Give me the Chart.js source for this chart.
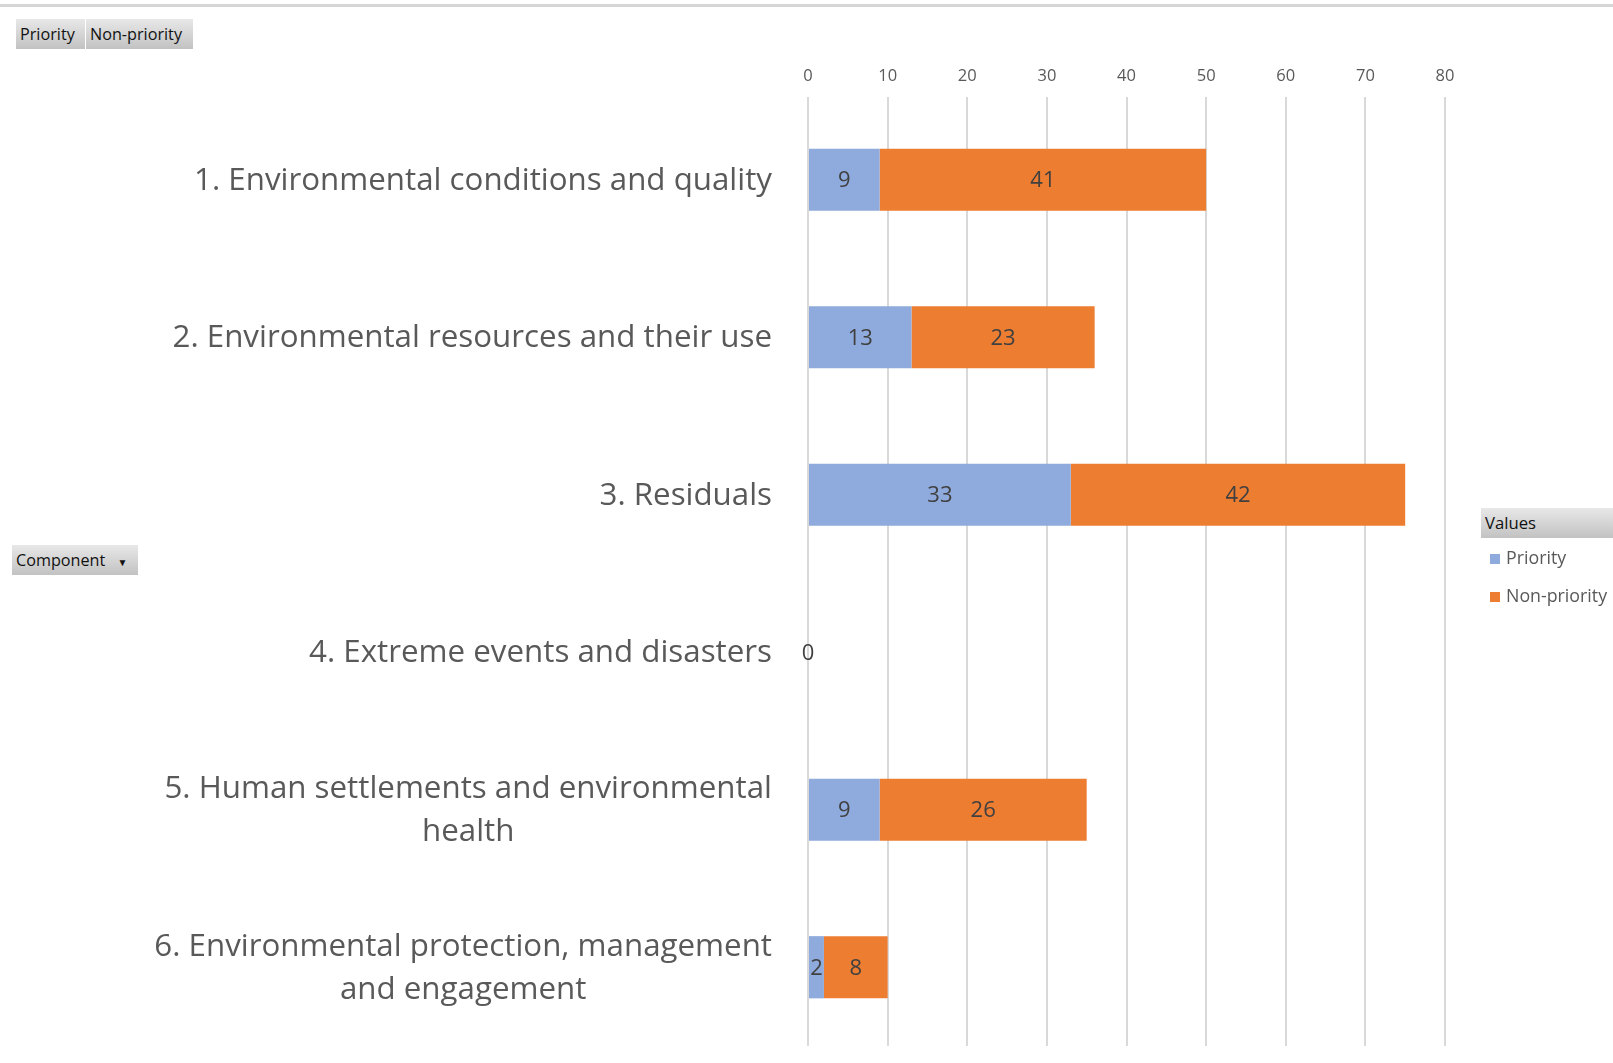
<!DOCTYPE html>
<html><head><meta charset="utf-8">
<script src="https://cdn.jsdelivr.net/npm/chart.js@4/dist/chart.umd.min.js"></script>
<style>
body{margin:0;background:#fff;font-family:"Open Sans",sans-serif;}
#wrap{position:relative;width:1613px;height:1063px;overflow:hidden;background:#fff}
canvas{position:absolute;left:0;top:0}
.topline{position:absolute;left:0;top:4px;width:1613px;height:3px;background:#d6d6d6}
.btn{position:absolute;height:30px;line-height:30px;font-size:16.2px;color:#111;background:linear-gradient(#e8e8e8,#c2c2c2);box-sizing:border-box;padding:0 4px;white-space:nowrap}
.leg{position:absolute;font-size:17.8px;color:#595959;white-space:nowrap;line-height:22px}
.sq{display:inline-block;width:10px;height:10px;margin-right:6px;vertical-align:0px}
</style></head>
<body>
<div id="wrap">
<canvas id="c" width="1613" height="1063"></canvas>
<div class="topline"></div>
<div class="btn" style="left:16px;top:19px;width:69px">Priority</div>
<div class="btn" style="left:86px;top:19px;width:107px">Non-priority</div>
<div class="btn" style="left:12px;top:545px;width:126px">Component <span style="font-size:10px;margin-left:8px">&#9660;</span></div>
<div class="btn" style="left:1481px;top:508px;width:140px;font-size:16.7px">Values</div>
<div id="legend"></div>
</div>
<script>
const categories = [
  ["1. Environmental conditions and quality"],
  ["2. Environmental resources and their use"],
  ["3. Residuals"],
  ["4. Extreme events and disasters"],
  ["5. Human settlements and environmental", "health"],
  ["6. Environmental protection, management", "and engagement"]
];
const seriesNames = ["Priority", "Non-priority"];
const priorityValues = [9, 13, 33, 0, 9, 2];
const nonPriorityValues = [41, 23, 42, null, 26, 8];
const xTicks = [0, 10, 20, 30, 40, 50, 60, 70, 80];
const seriesColors = ["#8FAADC", "#ED7D31"];

// legend (HTML)
const legendEl = document.getElementById('legend');
seriesNames.forEach((n, i) => {
  const d = document.createElement('div');
  d.className = 'leg';
  d.style.left = '1490px';
  d.style.top = (546 + i * 38) + 'px';
  d.innerHTML = '<span class="sq" style="background:' + seriesColors[i] + '"></span>' + n;
  legendEl.appendChild(d);
});

const FONT = "'Open Sans', sans-serif";

const labelPlugin = {
  id: 'catLabels',
  afterDraw(chart) {
    const ctx = chart.ctx;
    const y = chart.scales.y;
    const rightEdge = 772;
    const lh = 43;
    ctx.save();
    ctx.font = "31.3px " + FONT;
    ctx.fillStyle = "#595959";
    ctx.textBaseline = "middle";
    categories.forEach((lines, i) => {
      const cy = y.getPixelForValue(i) + 1;
      const widest = Math.max(...lines.map(l => ctx.measureText(l).width));
      const cx = rightEdge - widest / 2;
      ctx.textAlign = "center";
      lines.forEach((l, k) => {
        ctx.fillText(l, cx, cy + (k - (lines.length - 1) / 2) * lh);
      });
    });
    ctx.restore();
  }
};

const valuePlugin = {
  id: 'valueLabels',
  afterDatasetsDraw(chart) {
    const ctx = chart.ctx;
    ctx.save();
    ctx.font = "22px " + FONT;
    ctx.fillStyle = "#404040";
    ctx.textAlign = "center";
    ctx.textBaseline = "middle";
    chart.data.datasets.forEach((ds, di) => {
      const meta = chart.getDatasetMeta(di);
      meta.data.forEach((el, i) => {
        const v = ds.data[i];
        if (v === null || v === undefined) return;
        ctx.fillText(String(v), (el.x + el.base) / 2, el.y + 1);
      });
    });
    ctx.restore();
  }
};

new Chart(document.getElementById('c'), {
  type: 'bar',
  data: {
    labels: categories,
    datasets: [
      { label: seriesNames[0], data: priorityValues, backgroundColor: seriesColors[0], barPercentage: 0.79, categoryPercentage: 0.5 },
      { label: seriesNames[1], data: nonPriorityValues, backgroundColor: seriesColors[1], barPercentage: 0.79, categoryPercentage: 0.5 }
    ]
  },
  options: {
    indexAxis: 'y',
    responsive: false,
    animation: false,
    devicePixelRatio: 1,
    layout: { padding: { left: 0, right: 168, top: 0, bottom: 17 } },
    plugins: { legend: { display: false }, tooltip: { enabled: false } },
    scales: {
      x: {
        position: 'top',
        stacked: true,
        min: 0, max: 80,
        afterBuildTicks(scale) { scale.ticks = xTicks.map(v => ({ value: v })); },
        afterFit(scale) { scale.height = 101; },
        ticks: { color: '#595959', font: { family: FONT, size: 16.5 }, padding: 11 },
        grid: { color: '#d9d9d9', lineWidth: 2, drawTicks: true, tickLength: 4 },
        border: { display: false }
      },
      y: {
        stacked: true,
        afterFit(scale) { scale.width = 808; },
        ticks: { display: false },
        grid: { display: false },
        border: { display: false }
      }
    }
  },
  plugins: [labelPlugin, valuePlugin]
});
</script>
</body></html>
